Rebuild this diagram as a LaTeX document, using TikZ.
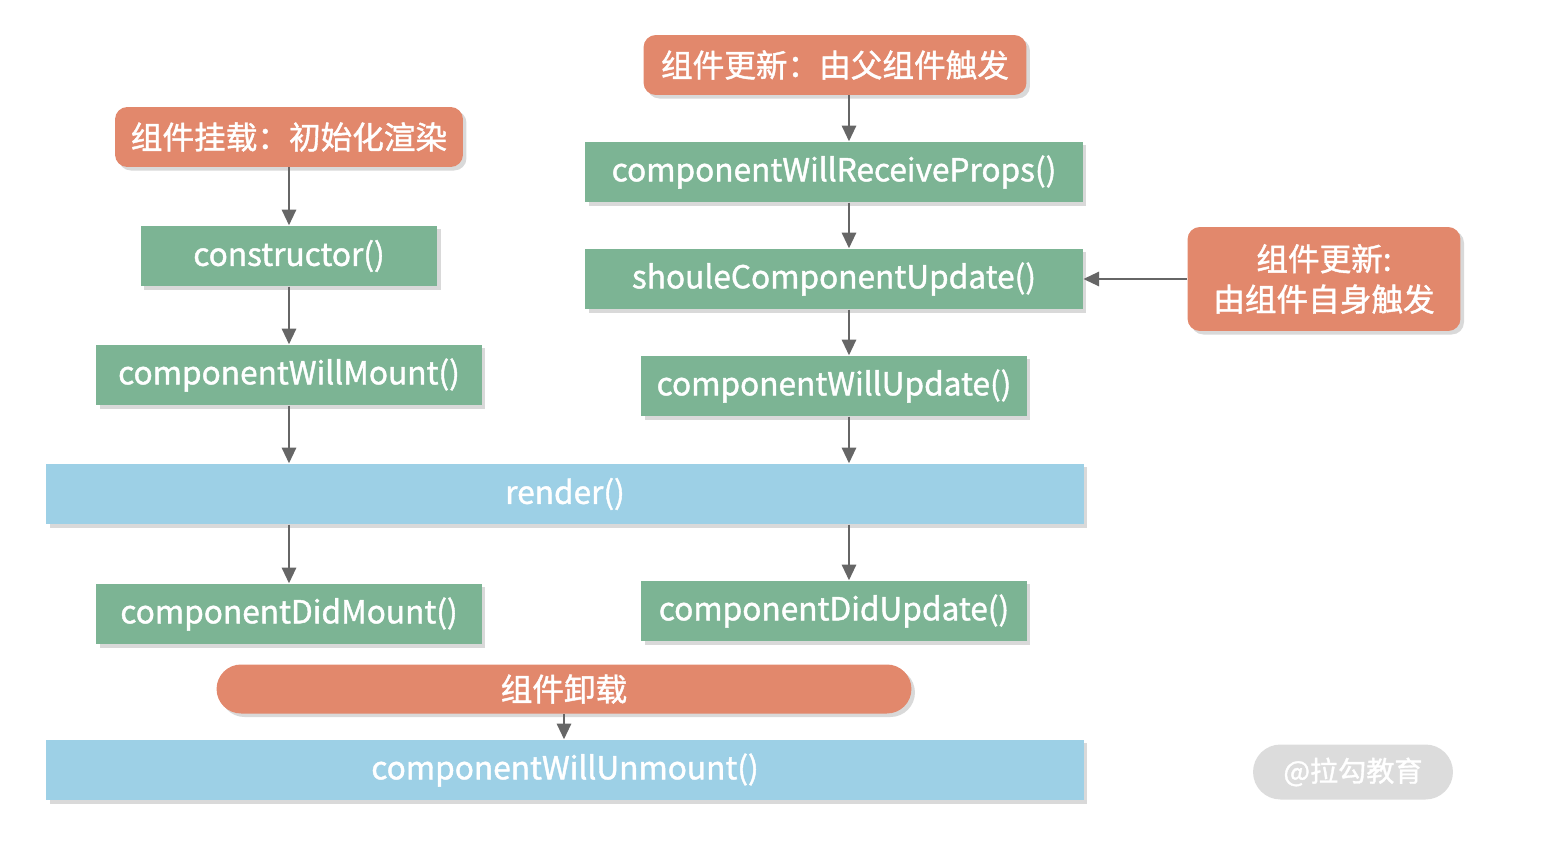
\documentclass[tikz,border=0pt]{standalone}
\usepackage{fontspec}
\setmainfont{Noto Sans CJK SC}[FakeBold=1.3]
\usepackage{xcolor}
\definecolor{lcorange}{HTML}{E2886C}
\definecolor{lcgreen}{HTML}{7CB494}
\definecolor{lcblue}{HTML}{9DD0E6}
\definecolor{lcgray}{HTML}{666666}
\definecolor{lcmark}{HTML}{DCDCDC}
\usetikzlibrary{arrows.meta,positioning,shadows,calc}

\begin{document}
\begin{tikzpicture}[x=0.02cm, y=-0.02cm,
    stagebox/.style={rectangle, rounded corners=7pt, fill=lcorange, text=white,
                     align=center, inner sep=0pt,
                     font=\fontsize{18}{23}\selectfont,
                     drop shadow={shadow xshift=2pt, shadow yshift=-2pt, opacity=0.3}},
    hookbox/.style={rectangle, fill=lcgreen, text=white, inner sep=0pt,
                    minimum height=1.21cm, font=\fontsize{18}{20}\selectfont,
                    drop shadow={shadow xshift=2pt, shadow yshift=-2pt, opacity=0.3}},
    commonbox/.style={hookbox, fill=lcblue, minimum width=20.76cm},
    arr/.style={-{Triangle[length=9pt, width=8pt]}, line width=1.6pt, lcgray}
  ]
    \useasboundingbox (0,0) rectangle (1542,852);

    % Mounting
    \node[stagebox, minimum width=6.96cm, minimum height=1.2cm] (mhdr) at (289,137) {组件挂载：初始化渲染};
    \node[hookbox, minimum width=5.94cm] (ctor) at (289,256) {constructor()};
    \node[hookbox, minimum width=7.72cm] (cwm)  at (289,375) {componentWillMount()};

    % Updating
    \node[stagebox, minimum width=7.66cm, minimum height=1.2cm] (uhdr) at (835,65) {组件更新：由父组件触发};
    \node[hookbox, minimum width=9.96cm] (cwrp) at (834,172) {componentWillReceiveProps()};
    \node[hookbox, minimum width=9.96cm] (scu)  at (834,279) {shouleComponentUpdate()};
    \node[hookbox, minimum width=7.72cm] (cwu)  at (834,386) {componentWillUpdate()};
    \node[stagebox, minimum width=5.46cm, minimum height=2.08cm] (shdr) at (1324,279) {组件更新:\\由组件自身触发};

    % Shared render
    \node[commonbox] (rnd) at (565,494) {render()};

    % After render
    \node[hookbox, minimum width=7.72cm] (cdm) at (289,614) {componentDidMount()};
    \node[hookbox, minimum width=7.72cm] (cdu) at (834,611) {componentDidUpdate()};

    % Unmounting
    \node[stagebox, rounded corners=0.49cm, minimum width=13.9cm, minimum height=0.98cm] (uhd) at (564,689) {组件卸载};
    \node[commonbox] (cwum) at (565,770) {componentWillUnmount()};

    % Watermark
    \node[rectangle, rounded corners=0.55cm, fill=lcmark, text=white, inner sep=0pt,
          minimum width=4cm, minimum height=1.1cm, font=\fontsize{16}{18}\selectfont] (mark) at (1353,772) {@拉勾教育};

    % Update column axis
    \coordinate (ucol) at (849,0);

    % Mount flow
    \draw[arr] (mhdr.south) -- (ctor.north);
    \draw[arr] (ctor.south) -- (cwm.north);
    \draw[arr] (cwm.south) -- (cwm.south |- rnd.north);
    \draw[arr] (rnd.south -| cdm.north) -- (cdm.north);

    % Update flow
    \draw[arr] (uhdr.south -| ucol) -- (cwrp.north -| ucol);
    \draw[arr] (cwrp.south -| ucol) -- (scu.north -| ucol);
    \draw[arr] (scu.south -| ucol) -- (cwu.north -| ucol);
    \draw[arr] (cwu.south -| ucol) -- (rnd.north -| ucol);
    \draw[arr] (rnd.south -| ucol) -- (cdu.north -| ucol);
    \draw[arr] (shdr.west) -- (scu.east);

    % Unmount flow
    \draw[arr] (uhd.south) -- (uhd.south |- cwum.north);
  \end{tikzpicture}
\end{document}
